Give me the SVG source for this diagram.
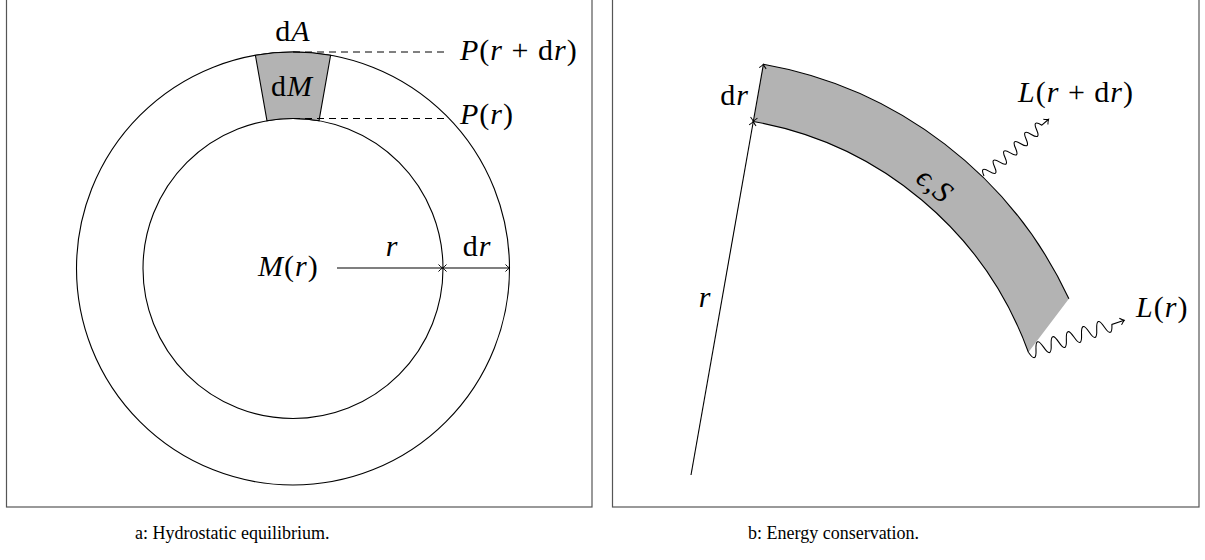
<svg xmlns="http://www.w3.org/2000/svg" width="1205" height="560" viewBox="0 0 1205 560">
<style>
.frame{fill:none;stroke:#555;stroke-width:1.2}
.ln{fill:none;stroke:#000;stroke-width:1.1}
.dash{fill:none;stroke:#000;stroke-width:1;stroke-dasharray:7 5}
.gray{fill:#b3b3b3}
.m{font-family:"Liberation Serif","DejaVu Serif",serif;font-size:30px;letter-spacing:1px;fill:#000}
.i{font-style:italic}
.cap{font-family:"Liberation Serif",serif;font-size:18px;fill:#000}
</style>
<defs>
<marker id="ah" viewBox="-6 -5 8 10" refX="0" refY="0" markerWidth="8" markerHeight="10" markerUnits="userSpaceOnUse" orient="auto-start-reverse">
<path d="M-4,-3.5 Q-1.5,-0.8 0,0 Q-1.5,0.8 -4,3.5" fill="none" stroke="#000" stroke-width="1"/>
</marker>
</defs>
<g id="panel-a">
<rect class="frame" x="6.5" y="-5" width="585.5" height="512"/>
<g id="shell">
<circle class="ln" cx="293" cy="268.5" r="216.5"/>
<circle class="ln" cx="293" cy="268.5" r="150"/>
</g>
<g id="dM-element">
<path class="gray ln" d="M255.4,55.3 A216.5,216.5 0 0 1 330.6,55.3 L319,120.8 A150,150 0 0 0 267,120.8 Z" fill="#b3b3b3"/>
<text class="m" x="292" y="96" text-anchor="middle">d<tspan class="i">M</tspan></text>
</g>
<g id="label-dA"><text class="m" x="293" y="41" text-anchor="middle">d<tspan class="i">A</tspan></text></g>
<g id="label-Prdr"><text class="m" x="460" y="60"><tspan class="i">P</tspan>(<tspan class="i">r</tspan> + d<tspan class="i">r</tspan>)</text></g>
<g id="label-Pr"><text class="m" x="460" y="124"><tspan class="i">P</tspan>(<tspan class="i">r</tspan>)</text></g>
<g id="label-Mr"><text class="m" x="258" y="276"><tspan class="i">M</tspan>(<tspan class="i">r</tspan>)</text></g>
<g id="label-r-a"><text class="m i" x="392" y="256" text-anchor="middle">r</text></g>
<g id="label-dr-a"><text class="m" x="477" y="256" text-anchor="middle">d<tspan class="i">r</tspan></text></g>
</g>
<g id="panel-b">
<rect class="frame" x="612.5" y="-5" width="586.5" height="512"/>
<g id="shell-b">
<path class="gray" d="M753.3,121.5 L763.4,64.3 A417,417 0 0 1 1068.9,298.8 L1028.4,352.2 A359,359 0 0 0 753.3,121.5 Z"/>
<path class="ln" d="M763.4,64.3 A417,417 0 0 1 1068.9,298.8"/>
<path class="ln" d="M753.3,121.5 A359,359 0 0 1 1028.4,352.2"/>
<text class="m" transform="translate(935,185) rotate(40)" x="0" y="10" text-anchor="middle"><tspan class="i">ϵ</tspan>,<tspan class="i">S</tspan></text>
</g>
<g id="label-dr-b"><text class="m" x="749" y="105" text-anchor="end">d<tspan class="i">r</tspan></text></g>
<g id="label-r-b"><text class="m i" x="705" y="307" text-anchor="middle">r</text></g>
<g id="label-Lrdr"><text class="m" x="1018" y="102"><tspan class="i">L</tspan>(<tspan class="i">r</tspan> + d<tspan class="i">r</tspan>)</text></g>
<g id="label-Lr"><text class="m" x="1136" y="317"><tspan class="i">L</tspan>(<tspan class="i">r</tspan>)</text></g>
</g>
<g id="connectors">
<path class="dash" d="M293,52 H447"/>
<path class="dash" d="M293,118.5 H447"/>
<path class="ln" d="M337,268 L442.5,268" marker-end="url(#ah)"/>
<path class="ln" d="M442.5,268 L509.5,268" marker-start="url(#ah)" marker-end="url(#ah)"/>
<path class="ln" d="M691,475 L753.3,121.5" marker-end="url(#ah)"/>
<path class="ln" d="M753.3,121.5 L763.4,64.3" marker-start="url(#ah)" marker-end="url(#ah)"/>
<path class="ln" transform="translate(984,176) rotate(-41.3)" d="M0,0 q3.5,-11 7,0 t7,0 t7,0 t7,0 t7,0 t7,0 t7,0 t7,0 t7,0 t7,0 t7,0 l9,0" marker-end="url(#ah)"/>
<path class="ln" transform="translate(1028.4,352.2) rotate(-18.4)" d="M0,0 q4,14 8,0 t8,0 t8,0 t8,0 t8,0 t8,0 t8,0 t8,0 t8,0 t8,0 t8,0 l13,0" marker-end="url(#ah)"/>
</g>
<g id="captions">
<text class="cap" x="135" y="539">a:  Hydrostatic equilibrium.</text>
<text class="cap" x="748" y="539">b:  Energy conservation.</text>
</g>
</svg>
